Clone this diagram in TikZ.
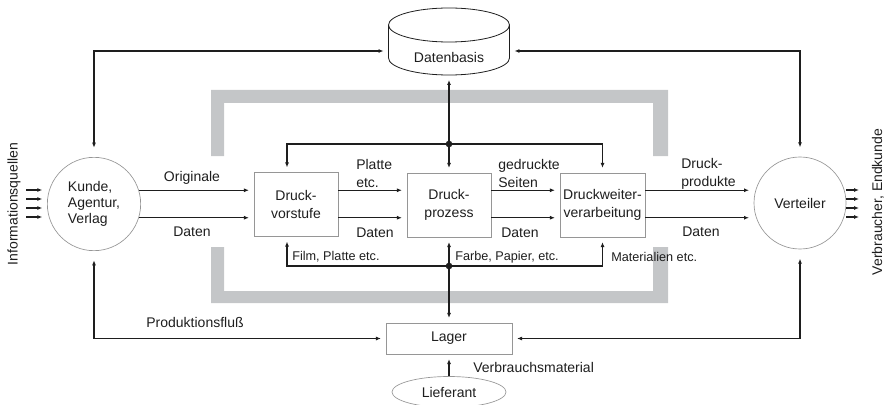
\documentclass[tikz,border=0pt]{standalone}
\usepackage{fontspec}
\setmainfont{Liberation Sans}
\usepackage{xcolor}
\usepackage{tikz}
\usetikzlibrary{arrows.meta,shapes.geometric}

\definecolor{framegray}{RGB}{196,198,200}
\definecolor{edgegray}{RGB}{150,150,150}
\definecolor{inkgray}{RGB}{30,30,30}

\begin{document}
\begin{tikzpicture}[x=0.75pt,y=0.75pt]

        \tikzstyle{procbox}=[draw=edgegray,line width=0.6pt,minimum width=63pt,minimum height=48pt,align=center,inner sep=0pt,font=\fontsize{10.5}{13.5}\selectfont,text=inkgray]
        \tikzstyle{partner}=[circle,draw=edgegray,line width=0.5pt,minimum size=70pt,inner sep=0pt,align=left,font=\fontsize{10.5}{12}\selectfont,text=inkgray]
        \tikzstyle{flowline}=[line width=0.8pt,draw=inkgray,-{Latex[length=3.75pt,width=3pt]},shorten >=3.5pt]
        \tikzstyle{twoway}=[flowline,{Latex[length=3.75pt,width=3pt]}-{Latex[length=3.75pt,width=3pt]},shorten <=3.5pt]
        \tikzstyle{flowtext}=[font=\fontsize{10.5}{13.5}\selectfont,text=inkgray,align=left,inner sep=0pt]
        \tikzstyle{smalltext}=[font=\fontsize{9.5}{11}\selectfont,text=inkgray,inner sep=0pt]
        \tikzstyle{joint}=[circle,fill=inkgray,inner sep=0pt,minimum size=5pt]

        \useasboundingbox (0,0) rectangle (887,404);

        %% gray frame
        \fill[framegray] (211,314) -- (668,314) -- (668,248) -- (653,248) -- (653,301) -- (224,301) -- (224,248) -- (211,248) -- cycle;
        \fill[framegray] (211,157) -- (224,157) -- (224,113) -- (653,113) -- (653,157) -- (668,157) -- (668,101) -- (211,101) -- cycle;

        %% Datenbasis
        \node[flowtext,minimum width=90.75pt,minimum height=27pt] (dbase) at (449,347) {Datenbasis};
        \draw[draw=inkgray,line width=0.6pt] (388.5,379) -- (388.5,346) arc[start angle=180,end angle=360,x radius=60.5,y radius=17] -- (509.5,379);
        \draw[draw=inkgray,line width=0.6pt] (449,379) ellipse[x radius=60.5,y radius=17];

        %% partners and steps
        \node[partner] (kunde) at (94,200) {Kunde,\\Agentur,\\Verlag};
        \node[partner,minimum size=69pt] (verteiler) at (800,201) {Verteiler};
        \node[procbox] (vorstufe) at (296,199.5) {Druck-\\vorstufe};
        \node[procbox] (prozess) at (449,199) {Druck-\\prozess};
        \node[procbox,minimum width=63.75pt] (weiter) at (602.5,199) {Druckweiter-\\verarbeitung};
        \node[procbox,minimum width=94.5pt,minimum height=23.25pt] (lager) at (449,65.5) {Lager};
        \node[ellipse,draw=edgegray,line width=0.5pt,inner sep=0pt,minimum width=85.5pt,minimum height=23.25pt,font=\fontsize{10.5}{12}\selectfont,text=inkgray] (lieferant) at (449,12) {Lieferant};

        \node[flowtext,rotate=90] (quellen) at (14,200) {Informationsquellen};
        \node[flowtext,rotate=90] (kunden) at (878,202) {Verbraucher, Endkunde};

        %% main flow
        \foreach \y [count=\i] in {214,205,196,187} {
            \coordinate (src\i) at (26,\y);
            \draw[flowline] (src\i) -- (src\i -| kunde.west);
            \coordinate (dst\i) at (859,\y);
            \draw[flowline,shorten >=0pt] (dst\i -| verteiler.east) -- (dst\i);
        }
        \draw[flowline] (kunde.17) -- (kunde.17 -| vorstufe.west);
        \draw[flowline] (kunde.-17) -- (kunde.-17 -| vorstufe.west);
        \draw[flowline] (vorstufe.east |- kunde.17) -- (prozess.west |- kunde.17);
        \draw[flowline] (vorstufe.east |- kunde.-17) -- (prozess.west |- kunde.-17);
        \draw[flowline] (prozess.east |- kunde.17) -- (weiter.west |- kunde.17);
        \draw[flowline] (prozess.east |- kunde.-17) -- (weiter.west |- kunde.-17);
        \draw[flowline] (weiter.east |- kunde.17) -- (verteiler.west |- kunde.17);
        \draw[flowline] (weiter.east |- kunde.-17) -- (verteiler.west |- kunde.-17);

        \node[flowtext] (originale) at (192,226) {Originale};
        \node[flowtext] (daten1) at (192,172) {Daten};
        \node[flowtext,anchor=west] (platte) at (356,231) {Platte\\etc.};
        \node[flowtext,anchor=west] (daten2) at (356,171) {Daten};
        \node[flowtext,anchor=west] (seiten) at (498,231) {gedruckte\\Seiten};
        \node[flowtext,anchor=west] (daten3) at (501,171) {Daten};
        \node[flowtext,anchor=west] (produkte) at (681,230.5) {Druck-\\produkte};
        \node[flowtext,anchor=west] (daten4) at (682,172) {Daten};

        %% Datenbasis links
        \draw[twoway,shorten <=7pt] (kunde.north) |- ([yshift=4.5pt]dbase.west);
        \draw[twoway,shorten >=7pt] ([yshift=4.5pt]dbase.east) -| (verteiler.north);
        \draw[twoway] (dbase.south) -- (prozess.north);
        \node[joint] (topjoin) at (449,260) {};
        \draw[flowline] (topjoin.center) -| ([xshift=-6.75pt]vorstufe.north);
        \draw[flowline] (topjoin.center) -| (weiter.north);

        %% Lager links
        \draw[twoway] (lager.north) -- (prozess.south);
        \node[joint] (botjoin) at (449,138) {};
        \draw[flowline] (botjoin.center) -| ([xshift=-6.75pt]vorstufe.south);
        \draw[flowline] (botjoin.center) -| (weiter.south);
        \draw[twoway,shorten <=7pt] (kunde.south) |- (lager.west);
        \draw[twoway,shorten <=7pt] (verteiler.south) |- (lager.east);
        \draw[flowline] (lieferant.north) -- (lager.south);

        \node[smalltext,anchor=west] (film) at (292,147) {Film, Platte etc.};
        \node[smalltext,anchor=west] (farbe) at (455,147) {Farbe, Papier, etc.};
        \node[smalltext,anchor=west] (material) at (611,147) {Materialien etc.};
        \node[flowtext] (fluss) at (195,82) {Produktionsfluß};
        \node[flowtext,anchor=west] (verbrauch) at (473,37) {Verbrauchsmaterial};

\end{tikzpicture}
\end{document}
